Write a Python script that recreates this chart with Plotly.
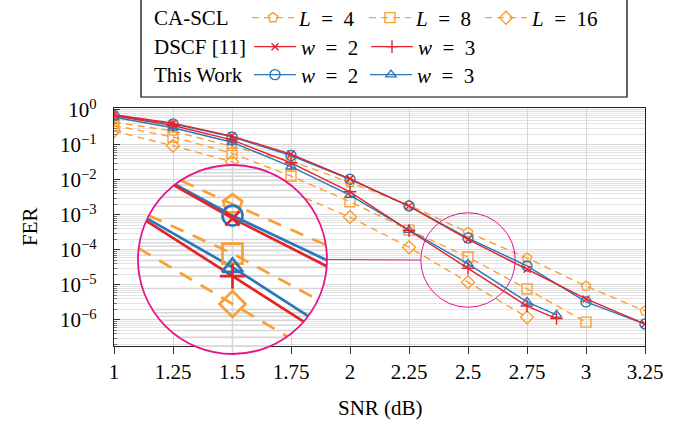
import numpy as np
import plotly.graph_objects as go

W, H = 686, 421
FONT = "Liberation Serif"
FS = 21

# ---------------- data ----------------
snr = [1.0, 1.25, 1.5, 1.75, 2.0, 2.25, 2.5, 2.75, 3.0, 3.25]
snr_l8 = [1.0, 1.25, 1.5, 1.75, 2.0, 2.25, 2.5, 2.75, 3.0]
snr_l16 = [1.0, 1.25, 1.5, 1.75, 2.0, 2.25, 2.5, 2.75]
snr_w3 = [1.0, 1.25, 1.5, 1.75, 2.0, 2.25, 2.5, 2.75, 2.875]

fer_cascl_l4 = [0.45, 0.25, 0.09, 0.035, 8.5e-3, 1.9e-3, 3.2e-4, 5.9e-5, 9.3e-6, 1.8e-6]
fer_cascl_l8 = [0.36, 0.17, 0.058, 0.013, 2.4e-3, 3.7e-4, 6.3e-5, 7.7e-6, 8.7e-7]
fer_cascl_l16 = [0.25, 0.095, 0.033, 4.5e-3, 8.7e-4, 1.2e-4, 1.2e-5, 1.2e-6]
fer_dscf_w2 = [0.73, 0.42, 0.18, 0.055, 0.0108, 1.8e-3, 2.0e-4, 2.8e-5, 4.0e-6, 7.7e-7]
fer_dscf_w3 = [0.68, 0.36, 0.14, 0.031, 4.6e-3, 3.6e-4, 3.0e-5, 2.5e-6, 1.1e-6]
fer_tw_w2 = [0.70, 0.40, 0.17, 0.050, 0.0105, 1.8e-3, 2.2e-4, 3.5e-5, 3.3e-6, 7.7e-7]
fer_tw_w3 = [0.62, 0.31, 0.12, 0.024, 3.7e-3, 3.7e-4, 4.0e-5, 3.3e-6, 1.4e-6]

x_tickvals = [1.0, 1.25, 1.5, 1.75, 2.0, 2.25, 2.5, 2.75, 3.0, 3.25]
x_ticktext = ["1", "1.25", "1.5", "1.75", "2", "2.25", "2.5", "2.75", "3", "3.25"]
y_exponents = [0, -1, -2, -3, -4, -5, -6]
y_ticktext = ["10<sup>0</sup>", "10<sup>\u22121</sup>", "10<sup>\u22122</sup>", "10<sup>\u22123</sup>",
              "10<sup>\u22124</sup>", "10<sup>\u22125</sup>", "10<sup>\u22126</sup>"]

row_labels = ["CA-SCL", "DSCF [11]", "This Work"]

# ---------------- styles / layout constants ----------------
ORANGE = "#fa9f34"
RED = "#e4222a"
BLUE = "#2a78b9"
MAGENTA = "#e6148c"
GRID = "#d6d6d6"
MINORGRID = "#e2e2e2"

EQ = "\u2002=\u2002"
series = [
    dict(name="<i>L</i>" + EQ + "4", x=snr, y=fer_cascl_l4, color=ORANGE, symbol="pentagon-open", dash="7px,5px", lx=247, row=0),
    dict(name="<i>L</i>" + EQ + "8", x=snr_l8, y=fer_cascl_l8, color=ORANGE, symbol="square-open", dash="7px,5px", lx=364, row=0),
    dict(name="<i>L</i>" + EQ + "16", x=snr_l16, y=fer_cascl_l16, color=ORANGE, symbol="diamond-open", dash="7px,5px", lx=480, row=0),
    dict(name="<i>w</i>" + EQ + "2", x=snr, y=fer_tw_w2, color=BLUE, symbol="circle-open", dash="solid", lx=249, row=2),
    dict(name="<i>w</i>" + EQ + "3", x=snr_w3, y=fer_tw_w3, color=BLUE, symbol="triangle-up-open", dash="solid", lx=365, row=2),
    dict(name="<i>w</i>" + EQ + "2", x=snr, y=fer_dscf_w2, color=RED, symbol="x-thin-open", dash="solid", lx=249, row=1),
    dict(name="<i>w</i>" + EQ + "3", x=snr_w3, y=fer_dscf_w3, color=RED, symbol="cross-thin-open", dash="solid", lx=366, row=1),
]
ROW_Y = [18, 47, 75]
MSIZE = {"pentagon-open": 10, "square-open": 10, "diamond-open": 10, "circle-open": 10,
         "triangle-up-open": 9, "x-thin-open": 7, "cross-thin-open": 9}

# main plot area (pixels)
PX_L, PX_R, PX_T, PX_B = 114, 645, 108, 346
XR = [1.0, 3.25]
YR = [-6.743, 0.057]
x_dom = [PX_L / W, PX_R / W]
y_dom = [1 - PX_B / H, 1 - PX_T / H]
px_per_x = (PX_R - PX_L) / (XR[1] - XR[0])
px_per_dec = (PX_B - PX_T) / (YR[1] - YR[0])

# magnifier
ZX, ZY = 2.5, -4.2857         # zoom centre (data, log10)
MAG = 2.0
BIG_CX, BIG_CY, BIG_R = 232.5, 259.5, 94.5   # pixels
HX = BIG_R / MAG / px_per_x
HY = BIG_R / MAG / px_per_dec
small_cx = PX_L + (ZX - XR[0]) * px_per_x
small_cy = PX_T + (YR[1] - ZY) * px_per_dec
small_r = BIG_R / MAG


def clip_polyline(xs, ys):
    u = [(x - ZX) / HX for x in xs]
    v = [(np.log10(y) - ZY) / HY for y in ys]
    ox, oy = [], []
    prev_t1 = None
    for i in range(len(u) - 1):
        u0, v0, u1, v1 = u[i], v[i], u[i + 1], v[i + 1]
        du, dv = u1 - u0, v1 - v0
        a = du * du + dv * dv
        b = 2 * (u0 * du + v0 * dv)
        c = u0 * u0 + v0 * v0 - 1
        disc = b * b - 4 * a * c
        if a == 0 or disc <= 0:
            prev_t1 = None
            continue
        sq = disc ** 0.5
        t0 = max(0.0, (-b - sq) / (2 * a))
        t1 = min(1.0, (-b + sq) / (2 * a))
        if t1 <= t0:
            prev_t1 = None
            continue
        pts = [(u0 + t0 * du, v0 + t0 * dv), (u0 + t1 * du, v0 + t1 * dv)]
        if prev_t1 == 1.0 and t0 == 0.0:
            pts = pts[1:]
        elif ox:
            ox.append(None)
            oy.append(None)
        for pu, pv in pts:
            ox.append(ZX + pu * HX)
            oy.append(10 ** (ZY + pv * HY))
        prev_t1 = t1
    return ox, oy


fig = go.Figure()

# ---------------- main traces ----------------
for i, s in enumerate(series):
    lg = "legend" if i == 0 else f"legend{i + 1}"
    fig.add_trace(go.Scatter(
        x=s["x"], y=s["y"], name=s["name"], mode="lines+markers",
        line=dict(color=s["color"], width=1.4, dash=s["dash"]),
        marker=dict(symbol=s["symbol"], size=MSIZE[s["symbol"]], color=s["color"],
                    line=dict(width=1.4, color=s["color"])),
        xaxis="x", yaxis="y", legend=lg, showlegend=True, hoverinfo="skip"))

# ---------------- magnifier (inset axes) ----------------
t = np.linspace(0, 2 * np.pi, 241)
fig.add_trace(go.Scatter(x=ZX + HX * np.cos(t), y=10 ** (ZY + HY * np.sin(t)), mode="lines",
                         fill="toself", fillcolor="white", line=dict(width=0, color="white"),
                         xaxis="x2", yaxis="y2", showlegend=False, hoverinfo="skip"))
# magnified grid
gx, gy = [], []
for e in range(-8, 1):
    for k in range(1, 10):
        val = k * 10.0 ** e
        vv = (np.log10(val) - ZY) / HY
        if abs(vv) < 1:
            half = (1 - vv * vv) ** 0.5
            gx += [ZX - half * HX, ZX + half * HX, None]
            gy += [val, val, None]
for xv in x_tickvals:
    uu = (xv - ZX) / HX
    if abs(uu) < 1:
        half = (1 - uu * uu) ** 0.5
        gx += [xv, xv, None]
        gy += [10 ** (ZY - half * HY), 10 ** (ZY + half * HY), None]
fig.add_trace(go.Scatter(x=gx, y=gy, mode="lines", line=dict(color=GRID, width=1.6),
                         xaxis="x2", yaxis="y2", showlegend=False, hoverinfo="skip"))

for s in series:
    cx, cy = clip_polyline(s["x"], s["y"])
    fig.add_trace(go.Scatter(x=cx, y=cy, mode="lines",
                             line=dict(color=s["color"], width=2.7,
                                       dash="14px,10px" if s["dash"] != "solid" else "solid"),
                             xaxis="x2", yaxis="y2", showlegend=False, hoverinfo="skip"))
for s in series:
    inside = [((x - ZX) / HX) ** 2 + ((np.log10(y) - ZY) / HY) ** 2 < 1 for x, y in zip(s["x"], s["y"])]
    mx = [x for x, k in zip(s["x"], inside) if k]
    my = [y for y, k in zip(s["y"], inside) if k]
    fig.add_trace(go.Scatter(x=mx, y=my, mode="markers",
                             marker=dict(symbol=s["symbol"], size=2 * MSIZE[s["symbol"]], color=s["color"],
                                         line=dict(width=2.7, color=s["color"])),
                             xaxis="x2", yaxis="y2", showlegend=False, hoverinfo="skip"))

# ---------------- layout ----------------
minor_vals = [k * 10.0 ** e for e in range(-7, 1) for k in range(2, 10)]
layout = dict(
    width=W, height=H, autosize=False, margin=dict(l=0, r=0, t=0, b=0, pad=0, autoexpand=False),
    paper_bgcolor="white", plot_bgcolor="rgba(0,0,0,0)",
    font=dict(family=FONT, size=FS, color="black"),
    xaxis=dict(domain=x_dom, range=XR, anchor="y", tickmode="array", tickvals=x_tickvals,
               ticktext=x_ticktext, showgrid=True, gridcolor=GRID, gridwidth=1,
               ticks="outside", ticklen=7, tickcolor="#333", tickwidth=1,
               showline=True, linecolor="#222", linewidth=1.2, mirror=True, zeroline=False,
               ticklabelstandoff=0, tickfont=dict(family=FONT, size=FS)),
    yaxis=dict(domain=y_dom, type="log", range=YR, anchor="x", tickmode="array",
               tickvals=[10.0 ** e for e in y_exponents], ticktext=y_ticktext,
               showgrid=True, gridcolor=GRID, gridwidth=1,
               ticks="inside", ticklen=6, tickcolor="#333",
               minor=dict(tickmode="array", tickvals=minor_vals, showgrid=True, gridcolor=MINORGRID,
                          ticks="inside", ticklen=3, tickcolor="#777"),
               showline=True, linecolor="#222", linewidth=1.2, mirror=True, zeroline=False,
               ticklabelstandoff=12, tickfont=dict(family=FONT, size=FS)),
    xaxis2=dict(domain=[(BIG_CX - BIG_R) / W, (BIG_CX + BIG_R) / W], range=[ZX - HX, ZX + HX],
                anchor="y2", visible=False),
    yaxis2=dict(domain=[1 - (BIG_CY + BIG_R) / H, 1 - (BIG_CY - BIG_R) / H], type="log",
                range=[ZY - HY, ZY + HY], anchor="x2", visible=False),
    showlegend=True,
)
for i, s in enumerate(series):
    lg = "legend" if i == 0 else f"legend{i + 1}"
    layout[lg] = dict(x=s["lx"] / W, y=1 - ROW_Y[s["row"]] / H, xanchor="left", yanchor="middle",
                      orientation="h", bgcolor="rgba(0,0,0,0)", borderwidth=0, itemwidth=42,
                      font=dict(family=FONT, size=FS, color="black"))
fig.update_layout(**layout)

# row labels of the legend
for lab, ry in zip(row_labels, ROW_Y):
    fig.add_annotation(text=lab, x=152 / W, y=1 - ry / H, xref="paper", yref="paper",
                       xanchor="left", yanchor="middle", showarrow=False,
                       font=dict(family=FONT, size=FS, color="black"))
# axis titles
fig.add_annotation(text="FER", x=30 / W, y=1 - 227 / H, xref="paper", yref="paper", textangle=-90,
                   xanchor="center", yanchor="middle", showarrow=False, font=dict(family=FONT, size=FS))
fig.add_annotation(text="SNR (dB)", x=380 / W, y=1 - 408 / H, xref="paper", yref="paper",
                   xanchor="center", yanchor="middle", showarrow=False, font=dict(family=FONT, size=FS))

# legend frame
fig.add_shape(type="rect", xref="paper", yref="paper", x0=141 / W, x1=627 / W, y0=1 - 97 / H, y1=1.01,
              line=dict(color="black", width=1.2), fillcolor="rgba(0,0,0,0)", layer="above")
# magnifier outlines
fig.add_shape(type="circle", xref="paper", yref="paper",
              x0=(BIG_CX - BIG_R) / W, x1=(BIG_CX + BIG_R) / W,
              y0=1 - (BIG_CY + BIG_R) / H, y1=1 - (BIG_CY - BIG_R) / H,
              line=dict(color=MAGENTA, width=1.8), layer="above")
fig.add_shape(type="circle", xref="paper", yref="paper",
              x0=(small_cx - small_r) / W, x1=(small_cx + small_r) / W,
              y0=1 - (small_cy + small_r) / H, y1=1 - (small_cy - small_r) / H,
              line=dict(color=MAGENTA, width=1), layer="above")
fig.add_shape(type="line", xref="paper", yref="paper",
              x0=(BIG_CX + BIG_R) / W, x1=(small_cx - small_r) / W,
              y0=1 - BIG_CY / H, y1=1 - small_cy / H,
              line=dict(color=MAGENTA, width=1), layer="above")

post = ("document.body.style.margin='0';document.body.style.overflow='hidden';"
        "var gd=document.getElementById('{plot_id}');gd.style.position='fixed';"
        "gd.style.left='0px';gd.style.top='0px';")
fig.write_html("out.html", post_script=post,
               config={"responsive": False, "displayModeBar": False, "staticPlot": True})
